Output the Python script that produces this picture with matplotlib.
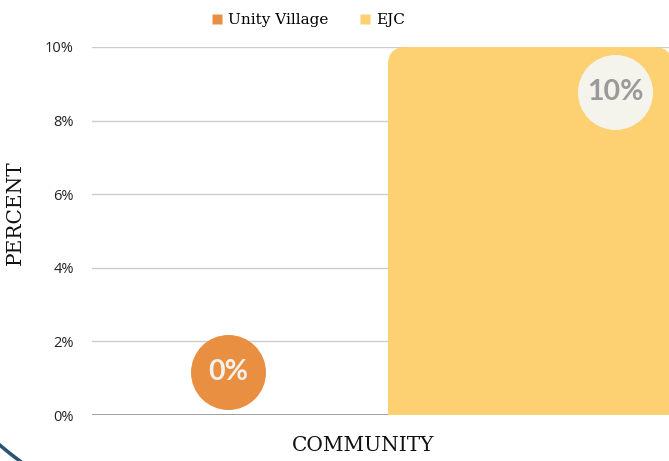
import numpy as np
import matplotlib
matplotlib.use("Agg")
import matplotlib.pyplot as plt
from matplotlib.patches import FancyBboxPatch, Arc
from matplotlib.lines import Line2D


# data
series = ['Unity Village', 'EJC']
values = [0, 10]
colors = ['#E98F42', '#FDD072']
label_txt = ['0%', '10%']
yticks = [0, 2, 4, 6, 8, 10]
category = 'COMMUNITY'

fig = plt.figure(figsize=(6.69, 4.61), dpi=100)
ax = fig.add_axes([92/669, 46/461, 577/669, 368/461])

ax.set_xlim(-0.465, 1.465)
ax.set_ylim(0, 10)

pos = np.arange(len(series))
w = 0.95
px_x = 577 / 1.93
px_y = 368 / 10.0
r = 18 / px_x
for i, v in enumerate(values):
    if v <= 0:
        continue
    # rounded top, bottom pushed below axis so only top corners show
    p = FancyBboxPatch((pos[i] - w/2, -2), w, v + 2,
                       boxstyle="round,pad=0,rounding_size=%f" % r,
                       mutation_aspect=px_x/px_y,
                       fc=colors[i], ec='none', zorder=3)
    ax.add_patch(p)

ax.set_yticks(yticks)
ax.set_yticklabels(['%d%%' % t for t in yticks], fontfamily='Open Sans', fontsize=10.5, color='#222222')
ax.tick_params(axis='y', length=0, pad=13)
ax.set_xticks([])
for s in ax.spines.values():
    s.set_visible(False)
ax.yaxis.grid(True, color='#cccccc', lw=1)
ax.set_axisbelow(True)
ax.axhline(0, color='#999999', lw=1.3, zorder=2)

# value badges
lab_x = [-0.01, 1.284]
lab_y = [1.17, 8.78]
badge_fc = ['#E98F42', '#F5F4EC']
badge_tc = ['#F4F1EA', '#9A9A9C']
for i in range(len(series)):
    ax.scatter(lab_x[i], lab_y[i], s=54**2, c=badge_fc[i], zorder=4, clip_on=False, lw=0)
    ax.text(lab_x[i], lab_y[i], label_txt[i], ha='center', va='center', fontfamily='Lato',
            fontweight='bold', fontsize=20.5, color=badge_tc[i], zorder=5)

fig.text(15/669, 1 - 213/461, 'PERCENT', rotation=90, ha='center', va='center',
         fontfamily='DejaVu Serif', fontsize=14.5, color='#111111')
fig.text(363/669, 1 - 445/461, category, ha='center', va='center',
         fontfamily='DejaVu Serif', fontsize=14.5, color='#111111')

handles = [Line2D([], [], marker='s', ls='', ms=7, mfc=c, mec='none') for c in colors]
fig.legend(handles, series, loc='center', bbox_to_anchor=(308/669, 1 - 20/461), ncol=2,
           frameon=False, prop={'family': 'DejaVu Serif', 'size': 11},
           handletextpad=0.3, columnspacing=2.0, handlelength=0.8)

# corner decoration
arc = Arc((2.91, 3.59), 9.0, 9.0, theta1=220, theta2=240, color='#2E5375', lw=2.6,
          transform=fig.dpi_scale_trans)
fig.add_artist(arc)

fig.savefig('out.png', dpi=100)
